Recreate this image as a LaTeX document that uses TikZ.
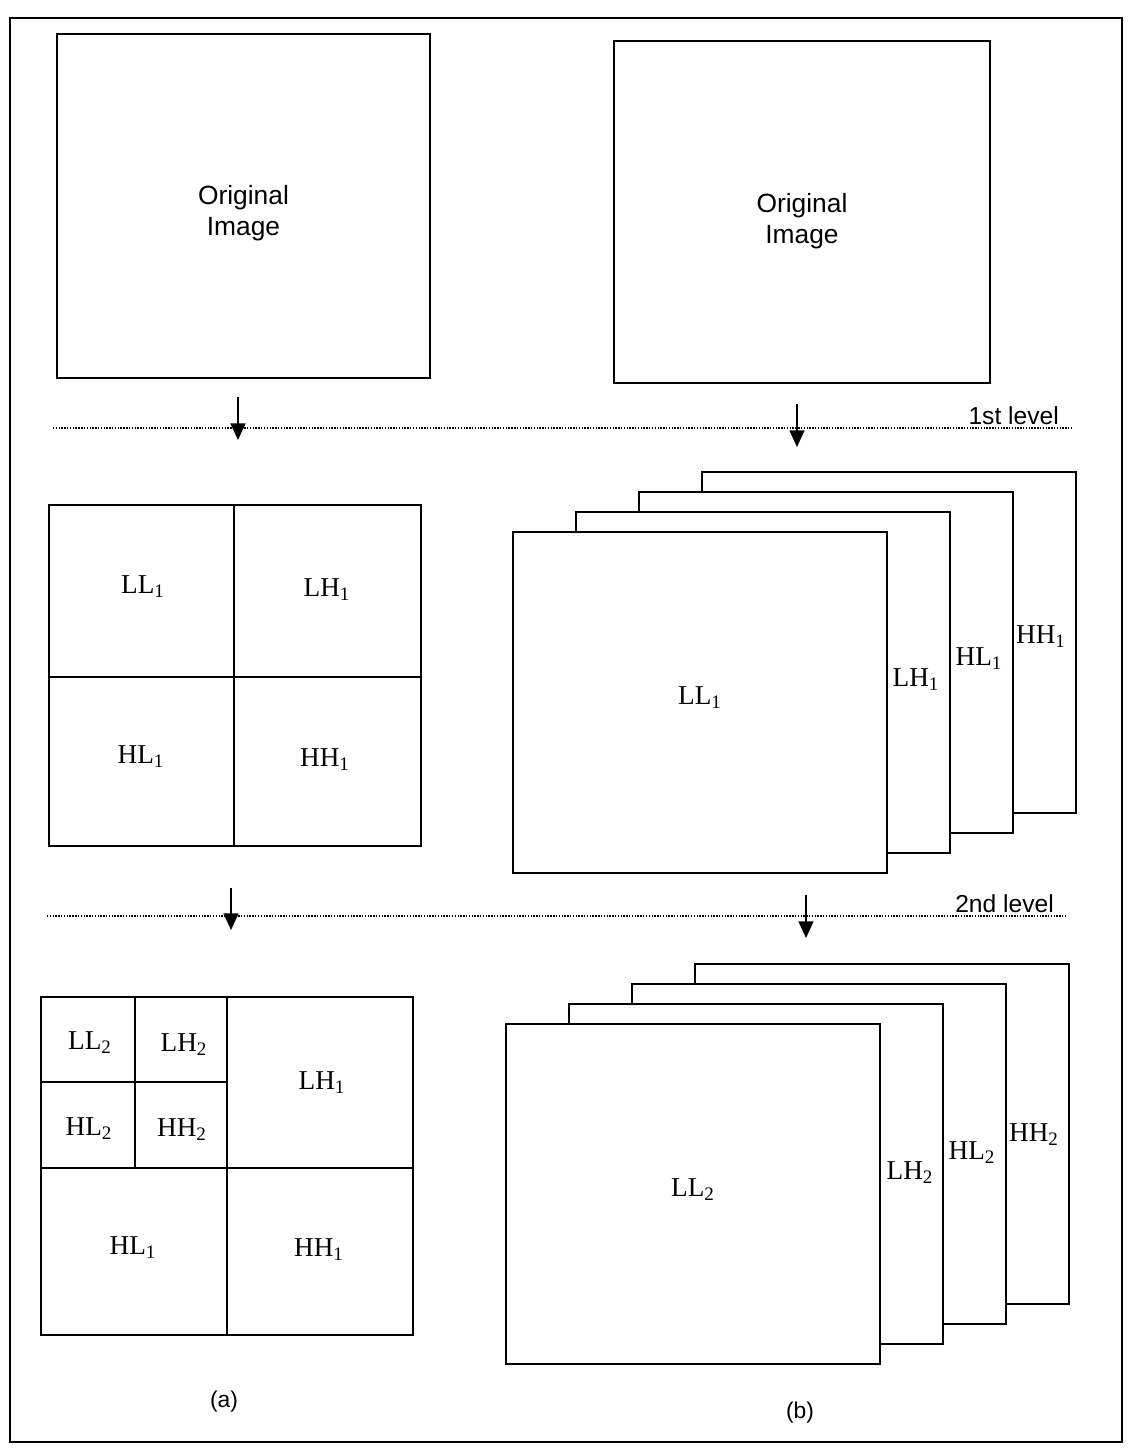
\documentclass[tikz,border=0pt]{standalone}
\usepackage{fontspec}
\setmainfont{Liberation Serif}
\newfontfamily\lblsans{Liberation Sans}
\usetikzlibrary{fit,arrows.meta}
\newcommand{\sbs}[1]{\textsubscript{#1}}
\begin{document}
\begin{tikzpicture}[x=0.2mm,y=-0.2mm,
  box/.style={draw,line width=1pt,fill=white,inner sep=0pt},
  lbl/.style={font=\fontsize{15.5}{17}\selectfont},
  otitle/.style={font=\lblsans\fontsize{15}{17.5}\selectfont,align=center},
  lvltxt/.style={font=\lblsans\fontsize{14}{16}\selectfont},
  captxt/.style={font=\lblsans\fontsize{13}{15}\selectfont},
  dotsep/.style={line width=1.2pt,dash pattern=on 0.8pt off 0.8pt},
  arr/.style={line width=1pt,-{Triangle[width=8.5pt,length=9.5pt]}}]
\useasboundingbox (0,0) rectangle (1135,1455);
% outer frame
\node[box,fill=none,line width=1.4pt,fit={(10,18) (1122,1442)}] (frame) {};

% original images
\node[box,fit={(57,34) (430,378)}] (origA) {};
\node[otitle] at ([yshift=-7*0.2mm]origA.center) {Original\\Image};
\node[box,fit={(614,41) (990,383)}] (origB) {};
\node[otitle] at ([yshift=-9*0.2mm]origB.center) {Original\\Image};

% 1st level separator
\coordinate (s1a) at (53,428);
\coordinate (s1b) at (1072,428);
\draw[dotsep] (s1a) -- (s1b);
\node[lvltxt,anchor=base east] (lvl1) at (1065,424) {1st level};
\coordinate (a1s) at (238,397);
\coordinate (a1e) at (238,440);
\draw[arr] (a1s) -- (a1e);
\coordinate (b1s) at (797,404);
\coordinate (b1e) at (797,447);
\draw[arr] (b1s) -- (b1e);

% level 1 (a)
\node[box,fit={(49,505) (421,846)}] (gA1) {};
\coordinate (gA1v1) at (234,505);
\coordinate (gA1v2) at (234,846);
\coordinate (gA1h1) at (49,677);
\coordinate (gA1h2) at (421,677);
\draw[line width=1pt] (gA1v1) -- (gA1v2) (gA1h1) -- (gA1h2);
\node[lbl] at (143,587) {LL\sbs{1}};
\node[lbl] at (327,590) {LH\sbs{1}};
\node[lbl] at (141,757) {HL\sbs{1}};
\node[lbl] at (325,760) {HH\sbs{1}};

% level 1 (b)
\node[box,fit={(702,472) (1076,813)}] (b1d) {};
\node[box,fit={(639,492) (1013,833)}] (b1c) {};
\node[box,fit={(576,512) (950,853)}] (b1b) {};
\node[box,fit={(513,532) (887,873)}] (b1a) {};
\node[lbl] at (700,698) {LL\sbs{1}};
\node[lbl] at (916,680) {LH\sbs{1}};
\node[lbl] at (979,659) {HL\sbs{1}};
\node[lbl] at (1041,637) {HH\sbs{1}};

% 2nd level separator
\coordinate (s2a) at (47,916);
\coordinate (s2b) at (1065,916);
\draw[dotsep] (s2a) -- (s2b);
\node[lvltxt,anchor=base east] (lvl2) at (1060,912) {2nd level};
\coordinate (a2s) at (231,888);
\coordinate (a2e) at (231,930);
\draw[arr] (a2s) -- (a2e);
\coordinate (b2s) at (806,895);
\coordinate (b2e) at (806,938);
\draw[arr] (b2s) -- (b2e);

% level 2 (a)
\node[box,fit={(41,997) (413,1335)}] (gA2) {};
\coordinate (gA2v1) at (227,997);
\coordinate (gA2v2) at (227,1335);
\coordinate (gA2h1) at (41,1168);
\coordinate (gA2h2) at (413,1168);
\coordinate (gA2q1) at (135,997);
\coordinate (gA2q2) at (135,1168);
\coordinate (gA2q3) at (41,1082);
\coordinate (gA2q4) at (227,1082);
\draw[line width=1pt] (gA2v1) -- (gA2v2) (gA2h1) -- (gA2h2)
  (gA2q1) -- (gA2q2) (gA2q3) -- (gA2q4);
\node[lbl] at (90,1043) {LL\sbs{2}};
\node[lbl] at (184,1045) {LH\sbs{2}};
\node[lbl] at (89,1129) {HL\sbs{2}};
\node[lbl] at (182,1130) {HH\sbs{2}};
\node[lbl] at (322,1083) {LH\sbs{1}};
\node[lbl] at (133,1248) {HL\sbs{1}};
\node[lbl] at (319,1250) {HH\sbs{1}};

% level 2 (b)
\node[box,fit={(695,964) (1069,1304)}] (b2d) {};
\node[box,fit={(632,984) (1006,1324)}] (b2c) {};
\node[box,fit={(569,1004) (943,1344)}] (b2b) {};
\node[box,fit={(506,1024) (880,1364)}] (b2a) {};
\node[lbl] at (693,1190) {LL\sbs{2}};
\node[lbl] at (910,1173) {LH\sbs{2}};
\node[lbl] at (972,1153) {HL\sbs{2}};
\node[lbl] at (1034,1135) {HH\sbs{2}};

% captions
\node[captxt] (capa) at (224,1402) {(a)};
\node[captxt] (capb) at (800,1413) {(b)};
\end{tikzpicture}
\end{document}
